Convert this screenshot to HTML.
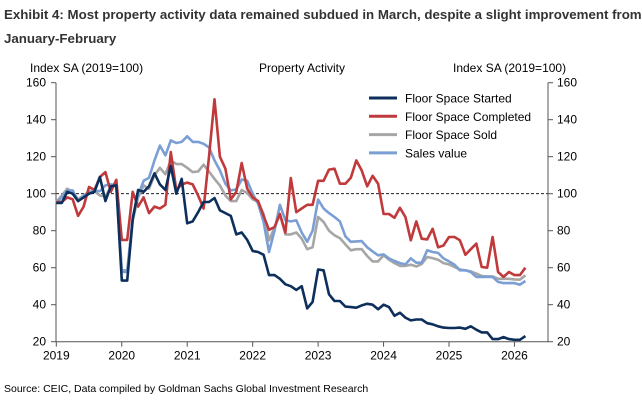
<!DOCTYPE html>
<html><head><meta charset="utf-8"><style>
body{margin:0;background:#fff;font-family:"Liberation Sans",Arial,sans-serif;}
svg text{font-family:"Liberation Sans",Arial,sans-serif;}
</style></head><body>
<svg width="642" height="409" xmlns="http://www.w3.org/2000/svg" id="chart">
<text x="4" y="19" font-size="13.3" font-weight="bold" fill="#333">Exhibit 4: Most property activity data remained subdued in March, despite a slight improvement from</text>
<text x="4" y="43" font-size="13.3" font-weight="bold" fill="#333">January-February</text>
<text x="30" y="72" font-size="12" fill="#000">Index SA (2019=100)</text>
<text x="302" y="72" font-size="12" fill="#000" text-anchor="middle">Property Activity</text>
<text x="453" y="72" font-size="12" fill="#000">Index SA (2019=100)</text>
<g id="axes"></g>
<g id="series"></g>
<g id="legend"></g>
<text x="4" y="392" font-size="10.5" fill="#000">Source: CEIC, Data compiled by Goldman Sachs Global Investment Research</text>
</svg>
<script>
const yTicks=[20,40,60,80,100,120,140,160];
const yearLabels=["2019","2020","2021","2022","2023","2024","2025","2026"];
const started=[95,95,101,100,96,98,100,101,109,96,104,104.5,53,53,86,102,101,104,111,105,102,115,100,108,84,85,90,95.5,95.5,97.7,91,89.5,88,78,79,75,69,68.5,67,56,56,54,51,50,48,50,38,41.5,59,58.6,45.6,42,42,39,38.7,38.4,39.6,40.5,40,37.5,40,38.7,34,35.7,33,31.5,32,32,30,29.4,28.3,27.6,27.4,27.4,27.6,27,28.3,26.5,25,25,21.4,21.4,22.5,21.4,21,21,23];
const completed=[95.5,95.5,98,97,88,93,103.6,102,109,111.7,101,107.5,75,75,101,93,98,89.5,93,92,94,122.5,102,105,106,105,99,92,120,151,120,113.5,97,101,116.6,102.7,98,96,88,80.5,82,89,79,108.5,90,92,94,94,107,107,113,113.5,105.4,105.4,108.6,118,112.6,104,109.7,105.4,89,89,87,92.4,87.4,74.8,85,75.7,75.3,81,71,72,76.6,76.6,74.8,67,70,73,60.4,60,76.6,57.7,55,57.7,56,56,60];
const sold=[95.5,99,102.7,101,97,99,100,101.4,99,98.5,103.6,104.5,58.6,58.6,85.6,98,104.5,102.7,110,114,110.5,118,116,116,114,111.7,112,115.7,112,108,104.5,99,96,96,102,100.4,97,95.5,89,74.8,81.6,89,78,78,79,75.7,70,71,87.4,84.7,80,77.5,76,72.6,69.4,70,70,66.3,63.4,63.4,66.7,64.3,62.5,61,61,61.6,60.7,62,65.8,65.2,64.3,62.5,61.8,60.4,59,58.6,58,56.8,55.5,55.3,55.3,54,54,54,53.7,53.5,55.9];
const salesValue=[95,98,101.8,101.8,96,99,101,101.4,101.4,104.5,105,104.5,57.7,57.7,87.4,99,107,108.6,118,126,120.7,128.8,127.4,128,131,128,128,127,125,118,112.6,105.4,101.8,102.3,107.7,107,100,94.6,84.7,68.5,80,94,85.6,85,85.6,79,74,80,96.8,92,89.5,87.4,85,77,74,74.2,74.4,71,68.8,66.7,67.2,65,63.6,62.5,61.8,65,62.7,62.7,69.4,68.5,68,65,63.4,61.6,58.6,58.6,57.7,55,55,55,55,52.3,51.7,51.7,51.7,50.8,52.8];
const seriesNames=["Floor Space Started","Floor Space Completed","Floor Space Sold","Sales value"];
const seriesColors=["#0d2f5c","#c0393b","#a6a6a6","#7b9fd4"];
const NS="http://www.w3.org/2000/svg";
const X0=56.3,PXY=65.45,PL=56,PR=548,PT=82.7,PB=341.7;
const xs=m=>X0+m*PXY/12;
const ys=v=>PB-(v-20)*(PB-PT)/140;
function mk(tag,attrs,parent){const e=document.createElementNS(NS,tag);for(const k in attrs)e.setAttribute(k,attrs[k]);parent.appendChild(e);return e;}
const ax=document.getElementById('axes');
let d=mk('line',{x1:PL,x2:PR,y1:ys(100),y2:ys(100),stroke:'#000','stroke-width':0.8,'stroke-dasharray':'3,2'},ax);


let a=mk('path',{d:`M${PL},${PT}V${PB}H${PR}V${PT}`,fill:'none',stroke:'#555','stroke-width':1},ax);


yTicks.forEach(t=>{
  const y=ys(t);
  mk('line',{x1:PL-5,x2:PL,y1:y,y2:y,stroke:'#555'},ax);
  mk('line',{x1:PR,x2:PR+5,y1:y,y2:y,stroke:'#555'},ax);
  let l=mk('text',{x:PL-10,y:y+4,'font-size':12,'text-anchor':'end'},ax);l.textContent=t;
  
  
  let r=mk('text',{x:PR+9,y:y+4,'font-size':12},ax);r.textContent=t;
  
  
});
yearLabels.forEach((lab,i)=>{
  const x=xs(i*12);
  mk('line',{x1:x,x2:x,y1:PB,y2:PB+5,stroke:'#555'},ax);
  let t=mk('text',{x:x,y:PB+18,'font-size':12,'text-anchor':'middle'},ax);t.textContent=lab;
  
  
});
const sg=document.getElementById('series');
const data=[started,completed,sold,salesValue];
const keys=['floor-space-started','floor-space-completed','floor-space-sold','sales-value'];
[2,3,1,0].forEach(i=>{
  const p=data[i].map((v,m)=>(m?'L':'M')+xs(m).toFixed(1)+','+ys(v).toFixed(1)).join('');
  let e=mk('path',{d:p,fill:'none',stroke:seriesColors[i],'stroke-width':2.6,'stroke-linejoin':'round'},sg);
  
  
});
const lg=document.getElementById('legend');
seriesNames.forEach((n,i)=>{
  const y=98+i*18.3;
  let ln=mk('line',{x1:369,x2:397,y1:y,y2:y,stroke:seriesColors[i],'stroke-width':3},lg);
  
  
  let t=mk('text',{x:405,y:y+4.5,'font-size':12},lg);t.textContent=n;
  
  
});
</script>
</body></html>
